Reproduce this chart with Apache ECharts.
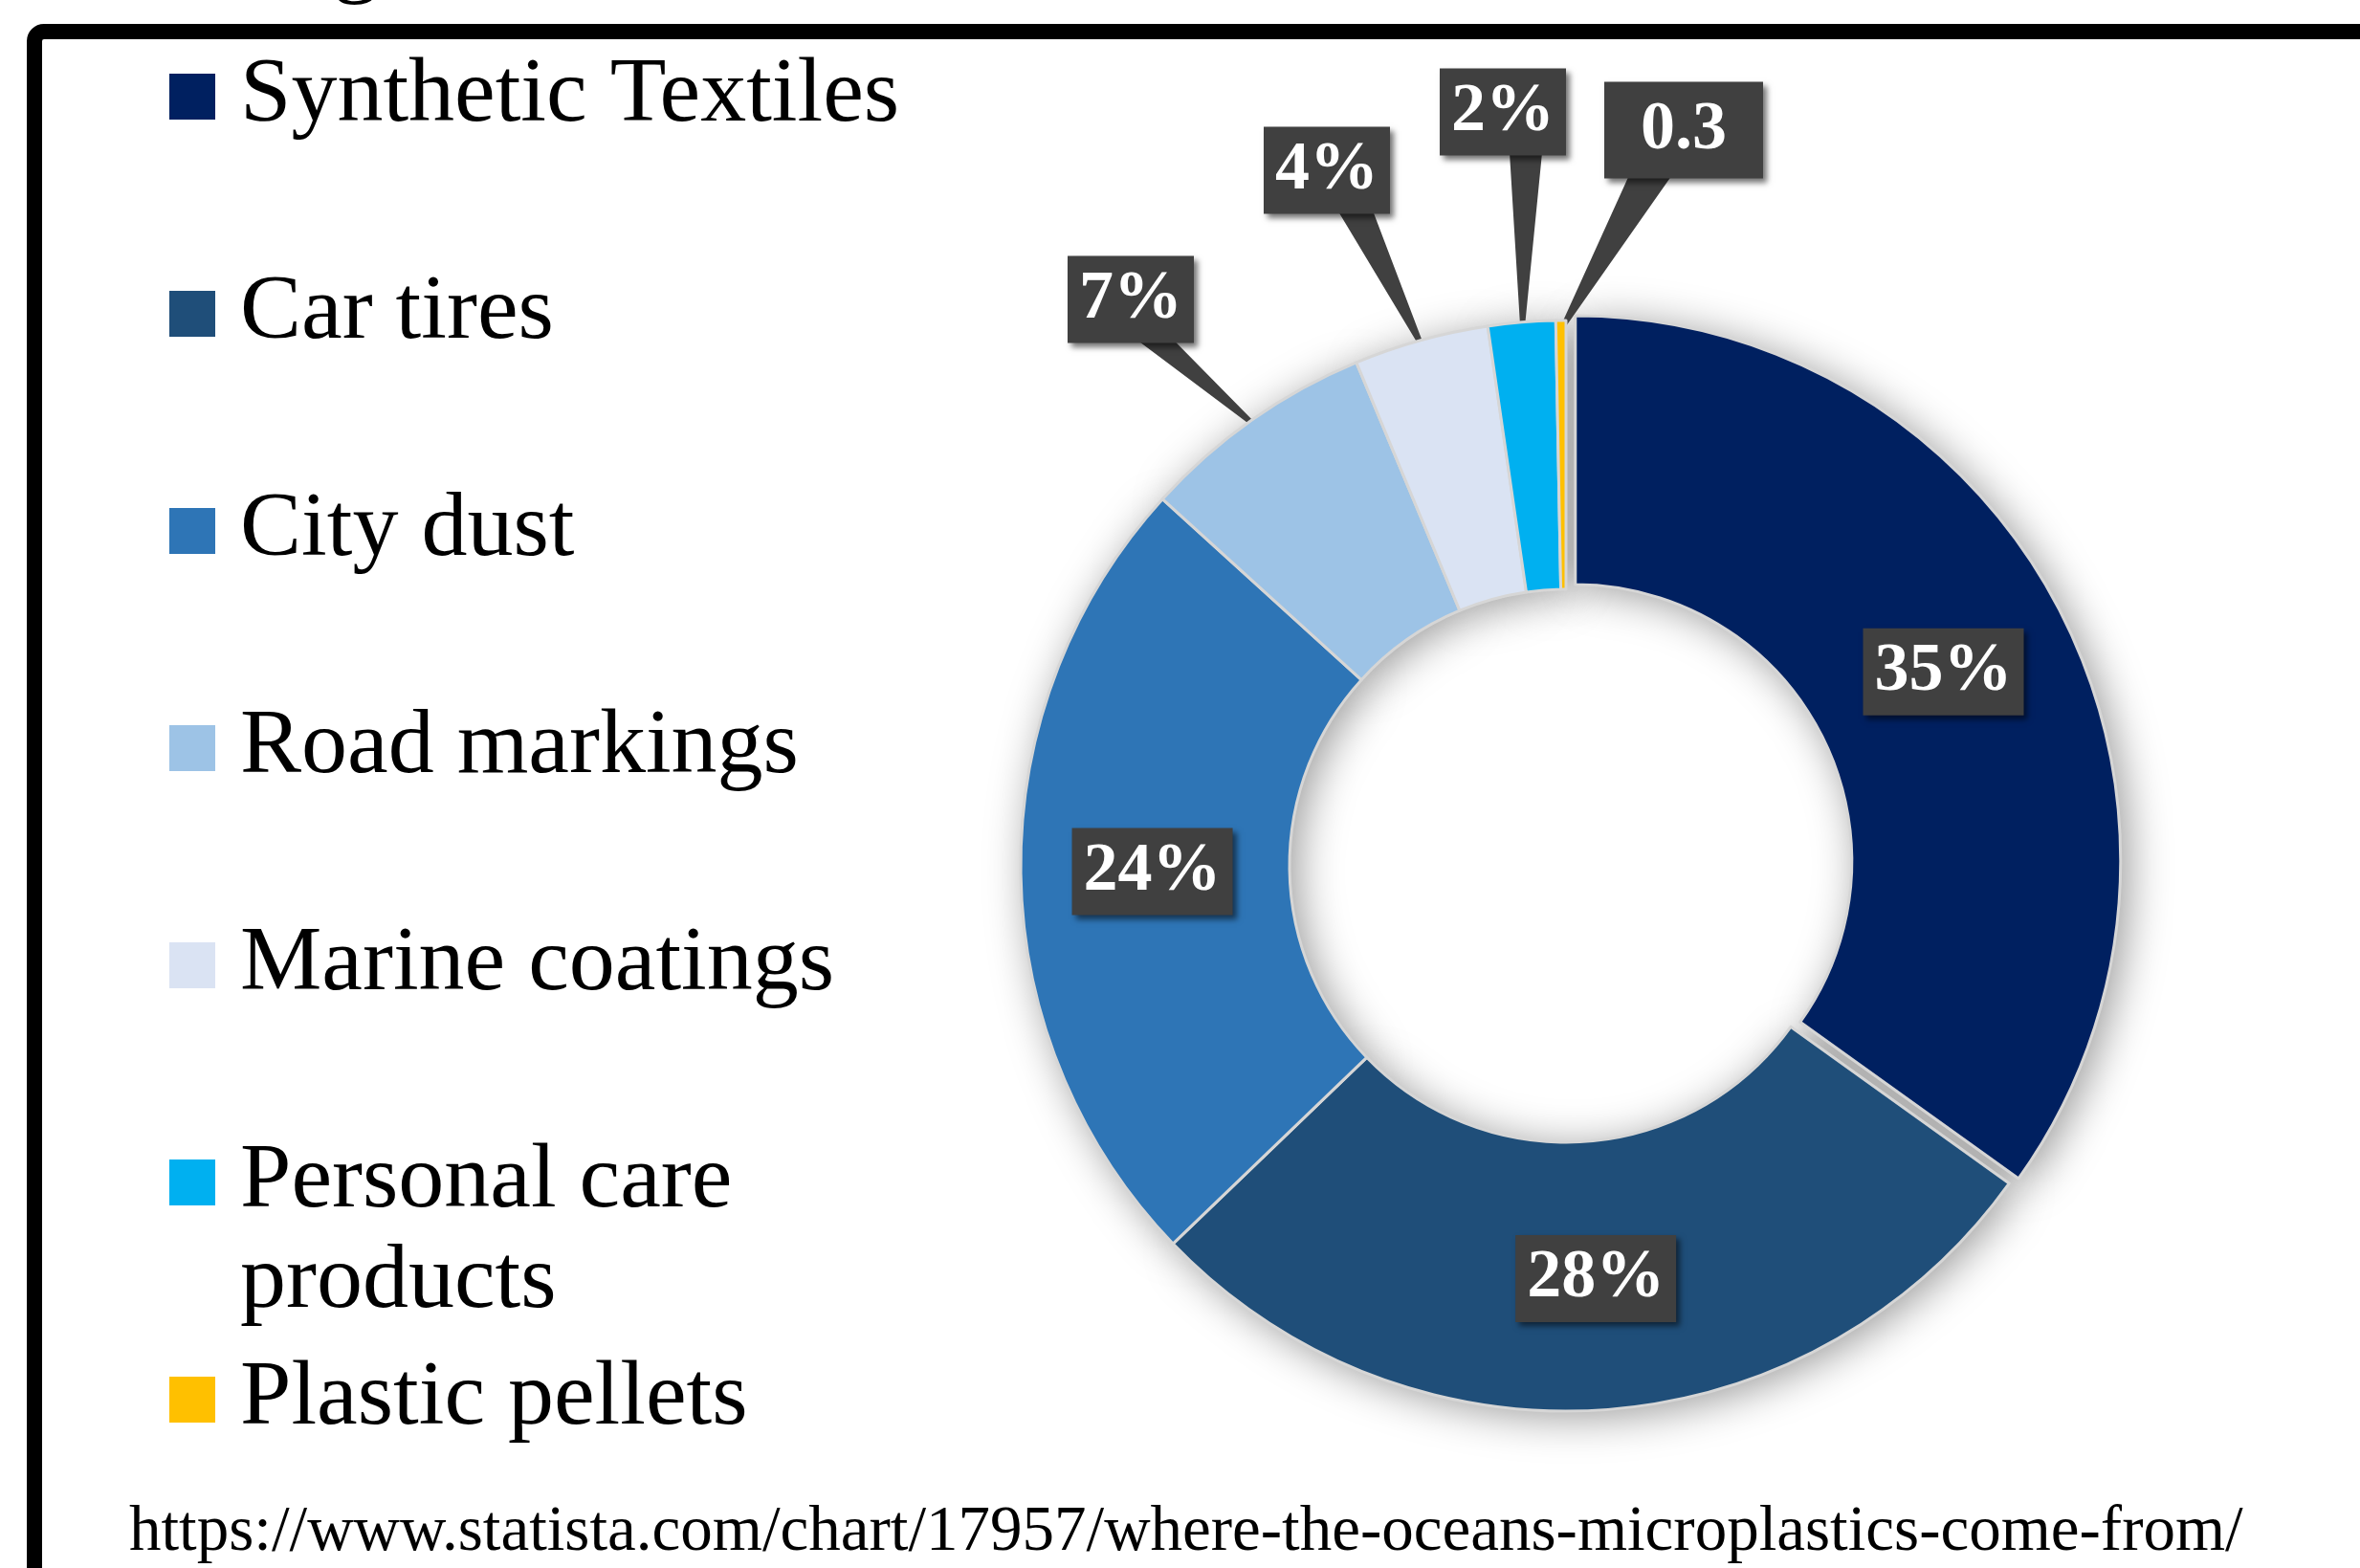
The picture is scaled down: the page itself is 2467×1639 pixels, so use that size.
<!DOCTYPE html>
<html>
<head>
<meta charset="utf-8">
<script src="https://cdn.jsdelivr.net/npm/echarts@6/dist/echarts.min.js"></script>
<style>
  html, body { margin: 0; padding: 0; background: #ffffff; }
  #chart { width: 2467px; height: 1639px; }
</style>
</head>
<body>
<div id="chart"></div>
<script>
// ---- data ----
const categories = ['Synthetic Textiles', 'Car tires', 'City dust', 'Road markings', 'Marine coatings', 'Personal care products', 'Plastic pellets'];
const shares = [35, 28, 24, 7, 4, 2, 0.3];
const labelTexts = ['35%', '28%', '24%', '7%', '4%', '2%', '0.3'];
const colors = ['#002060', '#1F4E79', '#2E75B6', '#9DC3E6', '#DAE3F3', '#00B0F0', '#FFC000'];
const sourceUrl = 'https://www.statista.com/chart/17957/where-the-oceans-microplastics-come-from/';

// ---- layout ----
const CX = 1637, CY = 905, R_IN = 289, R_OUT = 570;
const TIP_R = 560;
// callout label box centre offsets from pie centre, pointer base x-offset, pointer base half width
const callouts = { 3: [-455, -592, 26, 16], 4: [-250, -727, 30, 16], 5: [-66, -788, 24, 15], 6: [123, -769, -35, 20] };
const insideCount = 3;

function midAngle(i) {
  const total = shares.reduce((a, b) => a + b, 0);
  let acc = 0;
  for (let k = 0; k < i; k++) acc += shares[k];
  return (acc + shares[i] / 2) / total * 360;
}

const chart = echarts.init(document.getElementById('chart'));

const mainData = categories.map((n, i) => ({
  name: n,
  value: shares[i],
  selected: i === 0,
  itemStyle: { color: colors[i] },
  label: i < insideCount ? { position: 'inside' } :
    { position: 'outside', padding: i === 6 ? [11, 38, 11, 38] : [6, 12, 6, 12] },
  labelLine: { show: i >= insideCount }
}));
const shadowData = categories.map((n, i) => ({ name: n, value: shares[i], selected: i === 0 }));

const legendFont = { fontFamily: 'Liberation Serif', fontSize: 96, color: '#000000' };

chart.setOption({
  animation: false,
  backgroundColor: '#ffffff',
  title: [{
    text: sourceUrl,
    left: 135, top: 1569, padding: 0,
    textStyle: { fontFamily: 'Liberation Serif', fontSize: 67, fontWeight: 'normal', color: '#000000', lineHeight: 67 }
  }],
  graphic: [
    { type: 'rect', silent: true, z: 100,
      shape: { x: 36, y: 33, width: 4000, height: 4000, r: 10 },
      style: { fill: 'none', stroke: '#000000', lineWidth: 16 } },
    { type: 'text', silent: true, x: 348, y: -40,
      style: { text: 'g', font: '96px "Liberation Serif"', fill: '#000000', verticalAlign: 'middle', align: 'left' } }
  ],
  legend: {
    orient: 'vertical',
    left: 177, top: -52, padding: 0,
    itemWidth: 48, itemHeight: 48, itemGap: -79,
    icon: 'rect',
    selectedMode: false,
    data: categories,
    itemStyle: { borderWidth: 0, shadowBlur: 0, shadowColor: 'transparent' },
    formatter: function (name) {
      if (name === 'Personal care products') {
        return '{e| }\n{a|Personal care}\n{p|products}';
      }
      return '{n|' + name + '}';
    },
    textStyle: Object.assign({}, legendFont, {
      lineHeight: 2,
      rich: {
        n: Object.assign({}, legendFont, { lineHeight: 306, padding: [0, 0, 0, 21] }),
        e: Object.assign({}, legendFont, { fontSize: 1, lineHeight: 96, padding: [0, 0, 0, 21] }),
        a: Object.assign({}, legendFont, { lineHeight: 114, padding: [0, 0, 0, 21] }),
        p: Object.assign({}, legendFont, { lineHeight: 96, padding: [0, 0, 0, 21] })
      }
    })
  },
  series: [
    {
      type: 'pie',
      name: 'main',
      z: 3,
      center: [CX, CY],
      radius: [R_IN, R_OUT],
      startAngle: 90,
      clockwise: true,
      avoidLabelOverlap: false,
      selectedMode: 'single',
      selectedOffset: 11,
      itemStyle: { borderColor: '#d6d6d6', borderWidth: 3 },
      emphasis: { disabled: true },
      label: {
        show: true,
        formatter: p => labelTexts[p.dataIndex],
        color: '#ffffff',
        fontFamily: 'Liberation Serif',
        fontWeight: 'bold',
        fontSize: 72,
        lineHeight: 79,
        backgroundColor: '#404040',
        padding: [6, 12, 6, 12],
        shadowColor: 'rgba(0,0,0,0.55)',
        shadowBlur: 6,
        shadowOffsetX: 4,
        shadowOffsetY: 4
      },
      labelLine: {
        show: true, length: 20, length2: 0, smooth: false, showAbove: true,
        lineStyle: { color: '#404040', width: 4 }
      },
      labelLayout: function (p) {
        const c = callouts[p.dataIndex];
        if (!c) return {};
        const a = midAngle(p.dataIndex) * Math.PI / 180;
        const tip = [CX + TIP_R * Math.sin(a), CY - TIP_R * Math.cos(a)];
        const bx = CX + c[0], by = CY + c[1];
        const baseY = by + p.labelRect.height / 2 - 3;
        const baseX = bx + c[2];
        // fan of strokes from the box to the tip, giving a tapered pointer
        const pts = [];
        const steps = Math.ceil(c[3] * 2 / 3);
        for (let k = 0; k <= steps; k++) {
          pts.push([baseX - c[3] + k * (2 * c[3] / steps), baseY]);
          pts.push(tip);
        }
        return { x: bx, y: by, align: 'center', verticalAlign: 'middle', labelLinePoints: pts };
      },
      data: mainData
    },
    {
      type: 'pie',
      name: 'shadow',
      z: 1,
      silent: true,
      legendHoverLink: false,
      center: [CX, CY],
      radius: [R_IN, R_OUT],
      startAngle: 90,
      clockwise: true,
      selectedMode: 'single',
      selectedOffset: 11,
      label: { show: false },
      labelLine: { show: false },
      emphasis: { disabled: true },
      itemStyle: { color: '#ffffff', shadowBlur: 45, shadowColor: 'rgba(0,0,0,0.4)', shadowOffsetX: 8, shadowOffsetY: 6 },
      data: shadowData
    }
  ]
});
</script>
</body>
</html>
